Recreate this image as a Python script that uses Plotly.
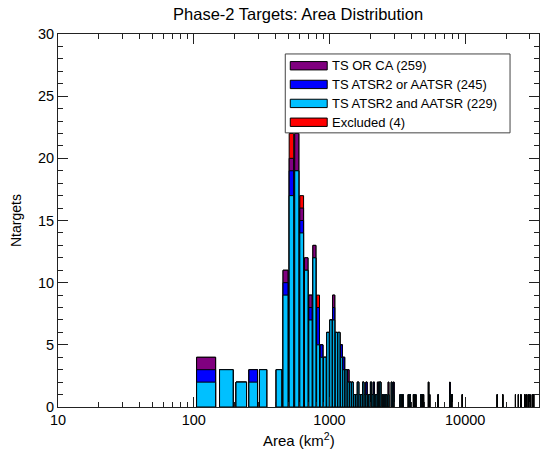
import numpy as np
import plotly.graph_objects as go

# ---------------- data (bin lower edges, 50 km^2 wide bins) ----------------
bin_lo = [100, 150, 200, 250, 300, 400, 450, 500, 550, 600, 650, 700, 750, 800,
          850, 900, 950, 1000, 1050, 1100, 1150, 1200, 1250, 1300, 1350, 1400, 1450,
          1500, 1550, 1600, 1650, 1700, 1750, 1800, 1850, 1900, 1950,
          2000, 2050, 2100, 2150, 2200, 2250, 2300, 2350, 2450,
          2550, 2600, 2700, 2850, 2950,
          3300, 3350, 3400, 3450, 3800, 3850, 3900, 4150, 4200, 4300, 4700, 4800, 4900,
          5350, 5450, 6300, 7700, 7950, 8000, 9500,
          17200, 18900, 23450, 24650, 25750, 27450, 28200, 29150, 30000, 31250, 31950]

n_purple = [4, 3, 2, 3, 3, 3, 11, 20, 22, 16, 12, 9, 13, 8,
            5, 4, 6, 7, 9, 6, 6, 5, 4, 3, 3, 2, 2,
            1, 1, 2, 1, 1, 2, 1, 2, 1, 1,
            2, 1, 2, 1, 1, 2, 2, 2, 1,
            1, 1, 2, 2, 2,
            1, 1, 1, 1, 1, 1, 1, 1, 1, 1, 1, 1, 1,
            2, 1, 1, 2, 1, 1, 1,
            1, 1, 1, 1, 1, 1, 1, 1, 1, 1, 1]

n_blue = [3, 3, 2, 3, 3, 3, 10, 19, 19, 15, 11, 8, 12, 8,
          5, 4, 6, 7, 8, 6, 6, 5, 4, 3, 2, 2, 2,
          1, 1, 2, 1, 1, 2, 1, 2, 1, 1,
          2, 1, 2, 1, 1, 1, 2, 2, 1,
          1, 1, 1, 2, 2,
          1, 1, 1, 1, 1, 1, 1, 1, 1, 1, 1, 1, 1,
          2, 1, 1, 2, 1, 1, 1,
          1, 1, 1, 1, 1, 1, 1, 1, 1, 1, 1]

n_cyan = [2, 3, 2, 2, 3, 3, 9, 17, 19, 14, 11, 7, 12, 5,
          4, 4, 6, 7, 7, 6, 6, 4, 3, 3, 2, 2, 2,
          1, 1, 2, 1, 1, 2, 1, 1, 1, 1,
          2, 1, 1, 1, 1, 1, 2, 2, 1,
          1, 1, 1, 2, 1,
          1, 1, 1, 1, 1, 1, 1, 1, 1, 1, 1, 1, 1,
          2, 1, 1, 1, 1, 1, 1,
          1, 1, 1, 1, 1, 1, 1, 1, 1, 1, 1]

n_excluded = [0] * len(bin_lo)
for lo, n in [(500, 2), (600, 1), (800, 1)]:
    n_excluded[bin_lo.index(lo)] = n

series_names = ["TS OR CA (259)", "TS ATSR2 or AATSR (245)",
                "TS ATSR2 and AATSR (229)", "Excluded (4)"]
series_colors = ["#80007F", "#0000FF", "#00C0FF", "#FF0000"]

x_major = [10, 100, 1000, 10000]
x_minor = [m * d for d in (10, 100, 1000, 10000) for m in range(2, 10) if m * d < 35000]

# ---------------- figure ----------------
BIN = 50
centers = [lo + BIN / 2 for lo in bin_lo]
bar_w = [BIN * 0.8] * len(bin_lo)
red_total = [p + e for p, e in zip(n_purple, n_excluded)]

fig = go.Figure()
line = dict(color="black", width=1)
for ys, col in [(red_total, series_colors[3]), (n_purple, series_colors[0]),
                (n_blue, series_colors[1]), (n_cyan, series_colors[2])]:
    fig.add_trace(go.Bar(x=centers, y=ys, width=bar_w,
                         marker=dict(color=col, line=line),
                         showlegend=False, hoverinfo="x+y"))

FONT = "Liberation Sans, Arial, Helvetica, sans-serif"
axcol = "#222222"

fig.update_layout(
    width=542, height=452,
    margin=dict(l=57.5, r=3, t=34, b=44.5, autoexpand=False),
    paper_bgcolor="white", plot_bgcolor="white",
    barmode="overlay",
    font=dict(family=FONT, size=14, color="black"),
    title=dict(text="Phase-2 Targets: Area Distribution", x=0.55, xanchor="center",
               y=0.968, yanchor="middle", font=dict(size=16.5, family=FONT)),
    xaxis=dict(type="log", range=[1, np.log10(35000)], automargin=False,
               tickvals=x_major, ticktext=[str(v) for v in x_major],
               ticks="inside", ticklen=10, tickcolor=axcol,
               showline=True, linecolor=axcol, linewidth=1, mirror="ticks",
               showgrid=False, zeroline=False,
               tickfont=dict(size=14.5),
               minor=dict(tickvals=x_minor, ticks="inside", ticklen=5,
                          tickcolor=axcol, showgrid=False)),
    yaxis=dict(range=[0, 30], dtick=5, tick0=0, automargin=False,
               ticks="inside", ticklen=10, tickcolor=axcol,
               showline=True, linecolor=axcol, linewidth=1, mirror="ticks",
               showgrid=False, zeroline=False,
               tickfont=dict(size=14.5),
               minor=dict(dtick=1, ticks="inside", ticklen=5,
                          tickcolor=axcol, showgrid=False)),
)

# axis titles
fig.add_annotation(xref="paper", yref="paper", x=0.5, y=-0.087,
                   xanchor="center", yanchor="middle", showarrow=False,
                   text="Area (km<sup>2</sup>)", font=dict(size=15, family=FONT))
fig.add_annotation(xref="paper", yref="paper", x=-0.0883, y=0.5,
                   xanchor="center", yanchor="middle", showarrow=False, textangle=-90,
                   text="Ntargets", font=dict(size=14, family=FONT))

# ---------------- hand-drawn legend box (paper coordinates) ----------------
box_x0, box_x1, box_y0, box_y1 = 0.4725, 0.9398, 0.735, 0.9465
fig.add_shape(type="rect", xref="paper", yref="paper",
              x0=box_x0, x1=box_x1, y0=box_y0, y1=box_y1,
              line=dict(color="#444444", width=1), fillcolor="white", layer="above")
row_y = [0.9149, 0.8648, 0.8139, 0.7634]
sw_h = 0.0112
for name, col, yy in zip(series_names, series_colors, row_y):
    fig.add_shape(type="rect", xref="paper", yref="paper",
                  x0=0.4829, x1=0.5597, y0=yy - sw_h, y1=yy + sw_h,
                  line=dict(color="black", width=1), fillcolor=col, layer="above")
    fig.add_annotation(xref="paper", yref="paper", x=0.5665, y=yy,
                       xanchor="left", yanchor="middle", showarrow=False,
                       text=name, font=dict(size=13, family=FONT, color="black"))

fig.write_html("out.html", config={"displayModeBar": False},
               post_script="document.body.style.margin='0';")
